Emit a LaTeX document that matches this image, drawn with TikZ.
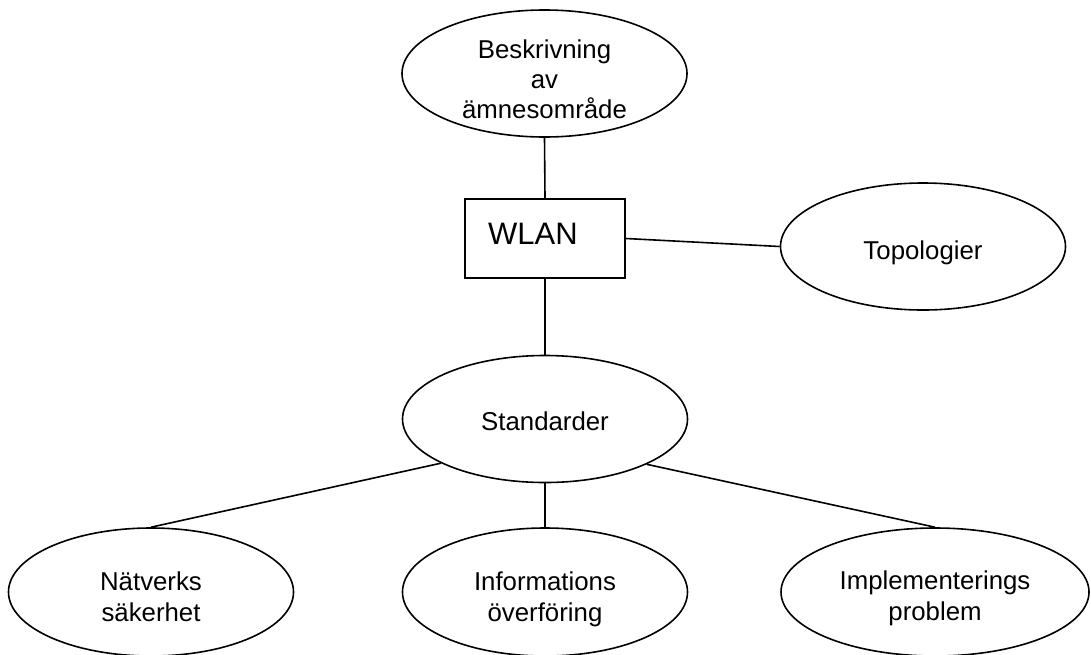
\documentclass[tikz,border=0pt]{standalone}
\usepackage{fontspec}
\setmainfont{Liberation Sans}
\usetikzlibrary{shapes.geometric}
\begin{document}
\begin{tikzpicture}[x=1pt,y=-1pt,
  ell/.style={ellipse,draw,line width=1.6pt,inner sep=0pt,minimum width=285pt,minimum height=127pt},
  lbl/.style={inner sep=0pt,align=center,font=\fontsize{25.8}{30}\selectfont},
  lblb/.style={lbl,font=\fontsize{25.8}{31}\selectfont},
  box/.style={draw,line width=1.6pt,minimum width=160pt,minimum height=79pt,inner sep=0pt},
  conn/.style={line width=1.6pt}]
\useasboundingbox (0,0) rectangle (1091,654);
\node[ell] (besk) at (544.5,73.5) {};
\node[lbl] (beskt) at ([yshift=-5.5pt]besk.center) {Beskrivning\\av\\ämnesområde};
\node[box] (wlan) at (545,238.5) {};
\node[font=\fontsize{31}{35}\selectfont,inner sep=0pt] (wlant) at (533,234) {WLAN};
\node[ell] (topo) at (923,246.5) {};
\node[lbl] (topot) at ([yshift=-6pt]topo.center) {Topologier};
\node[ell] (std) at (545,419) {};
\node[lbl] (stdt) at ([yshift=-2pt]std.center) {Standarder};
\node[ell,minimum height=128pt] (net) at (151,592) {};
\node[lblb] (nett) at ([yshift=-5pt]net.center) {Nätverks\\säkerhet};
\node[ell,minimum height=128pt] (info) at (545,592) {};
\node[lblb] (infot) at ([yshift=-7pt]info.center) {Informations\\överföring};
\node[ell,minimum width=308pt,minimum height=128pt] (impl) at (935,592) {};
\node[lblb] (implt) at ([yshift=-6pt]impl.center) {Implementerings\\problem};
\draw[conn] (besk.south) -- (wlan.north);
\draw[conn] (wlan.east) -- (topo.west);
\draw[conn] (wlan.south) -- (std.north);
\draw[conn] (std.203.6) -- (net.north);
\draw[conn] (std.south) -- (info.north);
\draw[conn] (std.336.2) -- (impl.north);
\end{tikzpicture}
\end{document}
